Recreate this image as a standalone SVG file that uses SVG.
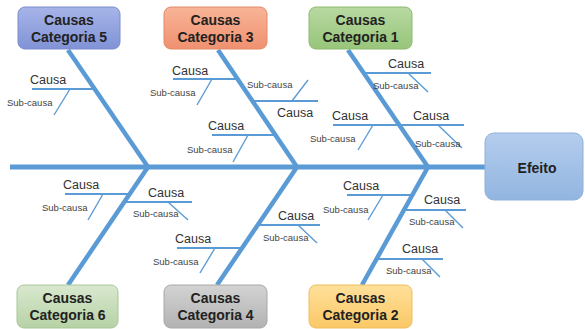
<svg xmlns="http://www.w3.org/2000/svg" width="585" height="329" viewBox="0 0 585 329">
  <style>
    .box { stroke-width: 1; }
    .title { font-family: "Liberation Sans", Arial, sans-serif; font-weight: bold; font-size: 14px; fill: #222; text-anchor: middle; }
    .causa { font-family: "Liberation Sans", Arial, sans-serif; font-size: 12.5px; fill: #333; }
    .sub { font-family: "Liberation Sans", Arial, sans-serif; font-size: 9.5px; fill: #444; }
    .spine { stroke: #5b9bd5; stroke-width: 5; fill: none; }
    .bone { stroke: #5b9bd5; stroke-width: 4.5; fill: none; }
    .branch { stroke: #5b9bd5; stroke-width: 2; fill: none; }
    .twig { stroke: #5b9bd5; stroke-width: 1.4; fill: none; }
  </style>
  <defs>
    <linearGradient id="g5" x1="0" y1="0" x2="0" y2="1"><stop offset="0" stop-color="#a6b4e8"/><stop offset="1" stop-color="#8193d6"/></linearGradient>
    <linearGradient id="g3" x1="0" y1="0" x2="0" y2="1"><stop offset="0" stop-color="#f8b497"/><stop offset="1" stop-color="#f09170"/></linearGradient>
    <linearGradient id="g1" x1="0" y1="0" x2="0" y2="1"><stop offset="0" stop-color="#b8d9a2"/><stop offset="1" stop-color="#97c579"/></linearGradient>
    <linearGradient id="g6" x1="0" y1="0" x2="0" y2="1"><stop offset="0" stop-color="#d9e8cf"/><stop offset="1" stop-color="#b7d2a6"/></linearGradient>
    <linearGradient id="g4" x1="0" y1="0" x2="0" y2="1"><stop offset="0" stop-color="#d3d3d3"/><stop offset="1" stop-color="#b2b2b2"/></linearGradient>
    <linearGradient id="g2" x1="0" y1="0" x2="0" y2="1"><stop offset="0" stop-color="#fee09a"/><stop offset="1" stop-color="#fbc866"/></linearGradient>
    <linearGradient id="gE" x1="0" y1="0" x2="0" y2="1"><stop offset="0" stop-color="#b4cdee"/><stop offset="1" stop-color="#92b5e0"/></linearGradient>
  </defs>

  <!-- bones and branches -->
  <g id="connectors">
    <line class="spine" x1="10" y1="167" x2="487" y2="167"/>

    <line class="bone" x1="68" y1="50" x2="148" y2="167"/>
    <line class="bone" x1="218" y1="50" x2="297" y2="167"/>
    <line class="bone" x1="348" y1="50" x2="428" y2="167"/>
    <line class="bone" x1="148" y1="167" x2="68" y2="285"/>
    <line class="bone" x1="297" y1="167" x2="217" y2="285"/>
    <line class="bone" x1="428" y1="167" x2="362" y2="285"/>

    <!-- category 5 -->
    <line class="branch" x1="32" y1="89" x2="95" y2="89"/>
    <line class="twig" x1="70" y1="89" x2="54" y2="115"/>

    <!-- category 3 -->
    <line class="branch" x1="173" y1="79" x2="238" y2="79"/>
    <line class="twig" x1="212" y1="79" x2="197" y2="105"/>
    <line class="branch" x1="252" y1="101" x2="318" y2="101"/>
    <line class="twig" x1="292" y1="101" x2="308" y2="80"/>
    <line class="branch" x1="212" y1="135" x2="277" y2="135"/>
    <line class="twig" x1="248" y1="135" x2="233" y2="162"/>

    <!-- category 1 -->
    <line class="branch" x1="363" y1="73" x2="431" y2="73"/>
    <line class="twig" x1="408" y1="73" x2="428" y2="92"/>
    <line class="branch" x1="333" y1="125" x2="464" y2="125"/>
    <line class="twig" x1="373" y1="125" x2="358" y2="150"/>
    <line class="twig" x1="438" y1="125" x2="462" y2="148"/>

    <!-- category 6 -->
    <line class="branch" x1="65" y1="194" x2="130" y2="194"/>
    <line class="twig" x1="103" y1="194" x2="88" y2="220"/>
    <line class="branch" x1="124" y1="202" x2="192" y2="202"/>
    <line class="twig" x1="168" y1="202" x2="188" y2="220"/>

    <!-- category 4 -->
    <line class="branch" x1="177" y1="248" x2="241" y2="248"/>
    <line class="twig" x1="215" y1="248" x2="200" y2="273"/>
    <line class="branch" x1="257" y1="225" x2="320" y2="225"/>
    <line class="twig" x1="298" y1="225" x2="317" y2="243"/>

    <!-- category 2 -->
    <line class="branch" x1="347" y1="195" x2="412" y2="195"/>
    <line class="twig" x1="383" y1="195" x2="368" y2="220"/>
    <line class="branch" x1="403" y1="210" x2="466" y2="210"/>
    <line class="twig" x1="445" y1="210" x2="463" y2="228"/>
    <line class="branch" x1="376" y1="259" x2="443" y2="259"/>
    <line class="twig" x1="422" y1="259" x2="440" y2="277"/>
  </g>

  <!-- branch labels -->
  <g id="labels">
    <text class="causa" x="30" y="84">Causa</text>
    <text class="sub" x="7" y="106">Sub-causa</text>

    <text class="causa" x="172" y="75">Causa</text>
    <text class="sub" x="150" y="96">Sub-causa</text>
    <text class="causa" x="277" y="117">Causa</text>
    <text class="sub" x="247" y="88">Sub-causa</text>
    <text class="causa" x="208" y="130">Causa</text>
    <text class="sub" x="187" y="153">Sub-causa</text>

    <text class="causa" x="388" y="68">Causa</text>
    <text class="sub" x="373" y="89">Sub-causa</text>
    <text class="causa" x="332" y="120">Causa</text>
    <text class="sub" x="310" y="142">Sub-causa</text>
    <text class="causa" x="413" y="120">Causa</text>
    <text class="sub" x="415" y="147">Sub-causa</text>

    <text class="causa" x="63" y="189">Causa</text>
    <text class="sub" x="42" y="211">Sub-causa</text>
    <text class="causa" x="148" y="197">Causa</text>
    <text class="sub" x="133" y="217">Sub-causa</text>

    <text class="causa" x="175" y="243">Causa</text>
    <text class="sub" x="153" y="265">Sub-causa</text>
    <text class="causa" x="278" y="220">Causa</text>
    <text class="sub" x="263" y="241">Sub-causa</text>

    <text class="causa" x="343" y="190">Causa</text>
    <text class="sub" x="323" y="213">Sub-causa</text>
    <text class="causa" x="424" y="204">Causa</text>
    <text class="sub" x="409" y="225">Sub-causa</text>
    <text class="causa" x="402" y="253">Causa</text>
    <text class="sub" x="386" y="274">Sub-causa</text>
  </g>

  <g id="cat5">
    <rect class="box" x="18" y="7" width="102" height="42" rx="7" fill="url(#g5)" stroke="#7a8ccc"/>
    <text class="title" x="69" y="25">Causas</text>
    <text class="title" x="69" y="42">Categoria 5</text>
  </g>
  <g id="cat3">
    <rect class="box" x="164" y="7" width="103" height="42" rx="7" fill="url(#g3)" stroke="#e08a68"/>
    <text class="title" x="215.5" y="25">Causas</text>
    <text class="title" x="215.5" y="42">Categoria 3</text>
  </g>
  <g id="cat1">
    <rect class="box" x="309" y="7" width="103" height="42" rx="7" fill="url(#g1)" stroke="#8cba70"/>
    <text class="title" x="360.5" y="25">Causas</text>
    <text class="title" x="360.5" y="42">Categoria 1</text>
  </g>
  <g id="cat6">
    <rect class="box" x="17" y="285" width="101" height="43" rx="7" fill="url(#g6)" stroke="#a8c698"/>
    <text class="title" x="67.5" y="303">Causas</text>
    <text class="title" x="67.5" y="320">Categoria 6</text>
  </g>
  <g id="cat4">
    <rect class="box" x="164" y="285" width="103" height="43" rx="7" fill="url(#g4)" stroke="#a8a8a8"/>
    <text class="title" x="215.5" y="303">Causas</text>
    <text class="title" x="215.5" y="320">Categoria 4</text>
  </g>
  <g id="cat2">
    <rect class="box" x="309" y="285" width="103" height="43" rx="7" fill="url(#g2)" stroke="#eebd60"/>
    <text class="title" x="360.5" y="303">Causas</text>
    <text class="title" x="360.5" y="320">Categoria 2</text>
  </g>
  <g id="efeito">
    <rect class="box" x="485" y="133" width="98" height="67" rx="9" fill="url(#gE)" stroke="#8fb0da"/>
    <text class="title" x="537" y="173">Efeito</text>
  </g>
</svg>
